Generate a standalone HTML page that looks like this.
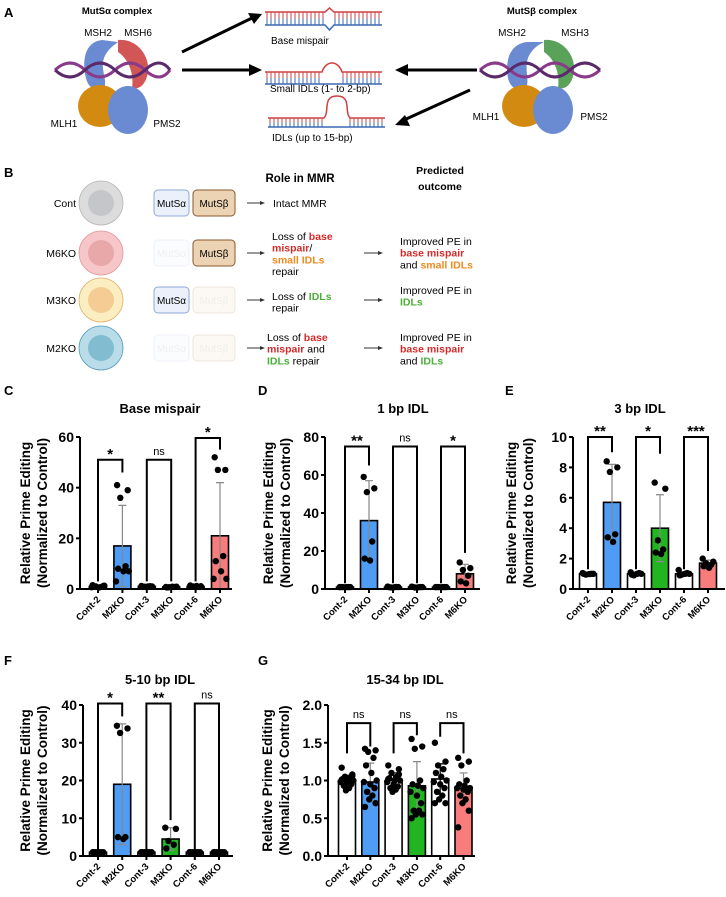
<!DOCTYPE html>
<html><head><meta charset="utf-8"><style>
html,body{margin:0;padding:0;background:#fff;}
svg{display:block;font-family:"Liberation Sans",sans-serif;}
.b{font-weight:bold;}
</style></head><body>
<svg id="fig" width="726" height="897" viewBox="0 0 726 897" xmlns="http://www.w3.org/2000/svg">
<!-- Panel A -->
<g>
<text x="4" y="17" class="b" font-size="13">A</text>
<text x="117" y="14" class="b" font-size="9.5" text-anchor="middle">MutSα complex</text>
<text x="98" y="36" font-size="10" text-anchor="middle">MSH2</text>
<text x="138" y="36" font-size="10" text-anchor="middle">MSH6</text>
<g>
<path d="M102,40 C84,42 82,62 86,78 C88,88 96,92 104,88 C108,80 100,70 104,58 C108,48 116,44 118,42 Z" fill="#6a8bd2"/>
<path d="M118,40 C136,38 150,55 148,72 C146,84 140,90 132,88 C134,76 130,60 118,52 Z" fill="#d25656"/>
<path d="M55,70 Q70,56 85,70 T115,70 T145,70 T170,70" stroke="#8a3a8a" stroke-width="3" fill="none"/>
<path d="M55,70 Q70,84 85,70 T115,70 T145,70 T170,70" stroke="#5a2a6a" stroke-width="3" fill="none"/>
<ellipse cx="100" cy="106" rx="22" ry="21" fill="#d38a10"/>
<ellipse cx="128" cy="110" rx="20" ry="24" fill="#6a8bd2"/>
</g>
<text x="64" y="127" font-size="10" text-anchor="middle">MLH1</text>
<text x="167" y="127" font-size="10" text-anchor="middle">PMS2</text>

<text x="542" y="14" class="b" font-size="9.5" text-anchor="middle">MutSβ complex</text>
<text x="512" y="36" font-size="10" text-anchor="middle">MSH2</text>
<text x="575" y="36" font-size="10" text-anchor="middle">MSH3</text>
<g>
<path d="M527,42 C509,44 505,62 508,78 C510,88 518,92 526,88 C530,80 524,70 528,58 C532,48 540,44 544,42 Z" fill="#6a8bd2"/>
<path d="M544,40 C562,38 576,55 574,72 C572,84 566,90 558,88 C560,76 556,60 544,52 Z" fill="#5aa25a"/>
<path d="M480,70 Q495,56 510,70 T540,70 T570,70 T600,70" stroke="#8a3a8a" stroke-width="3" fill="none"/>
<path d="M480,70 Q495,84 510,70 T540,70 T570,70 T600,70" stroke="#5a2a6a" stroke-width="3" fill="none"/>
<ellipse cx="524" cy="106" rx="22" ry="21" fill="#d38a10"/>
<ellipse cx="553" cy="110" rx="20" ry="24" fill="#6a8bd2"/>
</g>
<text x="486" y="120" font-size="10" text-anchor="middle">MLH1</text>
<text x="594" y="120" font-size="10" text-anchor="middle">PMS2</text>

<g stroke="#000" stroke-width="3">
<line x1="182" y1="52" x2="252" y2="18"/><line x1="182" y1="70" x2="252" y2="70"/>
<line x1="477" y1="70" x2="404" y2="70"/><line x1="470" y1="90" x2="404" y2="120"/>
</g>
<g fill="#000">
<polygon points="262,14 248,13 254,24"/><polygon points="262,70 249,64 249,76"/>
<polygon points="395,70 408,64 408,76"/><polygon points="395,125 405,115 410,126"/>
</g>
<g id="dna"></g>
<text x="271" y="44" font-size="10">Base mispair</text>
<text x="270" y="92" font-size="10">Small IDLs (1- to 2-bp)</text>
<text x="272" y="141" font-size="10">IDLs (up to 15-bp)</text>
</g>

<!-- Panel B -->
<g font-size="10.5">
<text x="4" y="177" class="b" font-size="13">B</text>
<text x="300" y="182" class="b" font-size="11.5" text-anchor="middle">Role in MMR</text>
<text x="440" y="174" class="b" font-size="10.5" text-anchor="middle">Predicted</text>
<text x="440" y="190" class="b" font-size="10.5" text-anchor="middle">outcome</text>
<g id="rows"></g>
<text x="273" y="207">Intact MMR</text>
<text x="272" y="240"><tspan x="272">Loss of <tspan fill="#d42a2a" class="b">base</tspan></tspan><tspan x="272" dy="11.7"><tspan fill="#d42a2a" class="b">mispair</tspan>/</tspan><tspan x="272" dy="11.7" fill="#ee8a20" class="b">small IDLs</tspan><tspan x="272" dy="11.7">repair</tspan></text>
<text x="272" y="300"><tspan x="272">Loss of <tspan fill="#4caf3a" class="b">IDLs</tspan></tspan><tspan x="272" dy="11.7">repair</tspan></text>
<text x="267" y="341"><tspan x="267">Loss of <tspan fill="#d42a2a" class="b">base</tspan></tspan><tspan x="267" dy="11.7"><tspan fill="#d42a2a" class="b">mispair</tspan> and</tspan><tspan x="267" dy="11.7"><tspan fill="#4caf3a" class="b">IDLs</tspan> repair</tspan></text>
<text x="400" y="245"><tspan x="400">Improved PE in</tspan><tspan x="400" dy="11.7" fill="#d42a2a" class="b">base mispair</tspan><tspan x="400" dy="11.7">and <tspan fill="#ee8a20" class="b">small IDLs</tspan></tspan></text>
<text x="400" y="294"><tspan x="400">Improved PE in</tspan><tspan x="400" dy="11.7" fill="#4caf3a" class="b">IDLs</tspan></text>
<text x="400" y="341"><tspan x="400">Improved PE in</tspan><tspan x="400" dy="11.7" fill="#d42a2a" class="b">base mispair</tspan><tspan x="400" dy="11.7">and <tspan fill="#4caf3a" class="b">IDLs</tspan></tspan></text>
</g>
<g id="charts"></g>
</svg>
<script>
const NS="http://www.w3.org/2000/svg";
function mk(parent,tag,attrs,txt){const e=document.createElementNS(NS,tag);for(const k in attrs)e.setAttribute(k,attrs[k]);if(txt!==undefined)e.textContent=txt;parent.appendChild(e);return e;}

// ---------- chart data ----------
const categories=["Cont-2","M2KO","Cont-3","M3KO","Cont-6","M6KO"];
const barColors=["#ffffff","#4f9cf5","#ffffff","#22b522","#ffffff","#f87c7c"];
const errColors=["#000","#888","#000","#888","#000","#888"];

const cMeans=[1,17,1,0.8,1,21];
const cSd=[0.4,16,0.3,0.2,0.3,21];
const cPoints=[[1.5,1.2,1,0.8,1,0.6,1.3,0.7],[41,39,36,9,8,7,7,3],[1.2,1,0.9,1.1,0.8,1],[0.8,0.9,0.7,0.8,0.6,0.9],[1.4,1.1,1,0.8,0.9,1.2],[52,47,47,13,11,7,4,4]];
const cTicks=[0,20,40,60];
const cSig=["*","ns","*"];
const cBr=[[51,3,46],[51,3,3],[59.6,3,55]];

const dMeans=[1,36,1,1,1,8];
const dSd=[0.1,21,0.2,0.2,0.1,5];
const dPoints=[[1,1,1,1,1,1],[59,53,51,25,16,15],[1.3,1,0.8,1.1,1,0.9],[1.2,1,0.8,1,1.1,0.9],[1,1,1,1,1,1],[14,11,10,7,4,3]];
const dTicks=[0,20,40,60,80];
const dSig=["**","ns","*"];
const dBr=[[75,3,65],[75,3,3],[75,3,19]];

const eMeans=[1,5.7,1,4,1,1.7];
const eSd=[0.08,2.5,0.1,2.2,0.12,0.2];
const ePoints=[[1.05,1,0.95,1,1,0.98],[8.4,8.0,7.7,3.6,3.4,3.1],[1.1,1,0.9,1.05,0.95,1],[7.0,6.6,3.2,2.6,2.4,2.3],[1.25,1,0.95,1.05,0.9,1],[2.0,1.8,1.7,1.6,1.5,1.4]];
const eTicks=[0,2,4,6,8,10];
const eSig=["**","*","***"];
const eBr=[[10,1.3,9],[10,1.3,8.9],[10,1.3,2.5]];

const fMeans=[1,19,1,4.5,1,1];
const fSd=[0.1,16,0.1,3,0.1,0.1];
const fPoints=[[1,1,1,1,1,1],[34.5,33.8,32.6,5,5,4.5],[1,1,1,1,1,1],[7.5,7.2,4,3,2],[1,1,1,1,1,1],[1,1,1,1,1,1]];
const fTicks=[0,10,20,30,40];
const fSig=["*","**","ns"];
const fBr=[[40.4,1.5,37],[40.4,1.5,9.5],[40.4,1.5,1.5]];

const gMeans=[1.0,0.98,1.0,0.93,1.02,0.9];
const gSd=[0.07,0.25,0.1,0.32,0.2,0.2];
const gPoints=[[1.17,1.08,1.05,1.03,1.02,1.0,1.0,0.98,0.97,0.95,0.93,0.9,0.87,1.06,1.01],[1.42,1.4,1.38,1.3,1.2,1.1,1.0,0.98,0.95,0.9,0.85,0.8,0.75,0.7,0.65],[1.2,1.15,1.1,1.05,1.03,1.0,1.0,0.98,0.95,0.92,0.9,0.88,0.85,1.08,1.02],[1.55,1.45,1.42,1.0,0.95,0.93,0.9,0.85,0.8,0.7,0.6,0.6,0.55,0.55,0.5],[1.5,1.25,1.2,1.15,1.1,1.05,1.0,0.98,0.95,0.9,0.85,0.8,0.75,0.7,0.7],[1.3,1.25,1.2,1.0,0.95,0.93,0.9,0.9,0.88,0.85,0.8,0.75,0.7,0.6,0.38]];
const gTicks=["0.0","0.5","1.0","1.5","2.0"];
const gSig=["ns","ns","ns"];
const gBr=[[1.76,1.36,1.45],[1.76,1.36,1.6],[1.76,1.58,1.36]];

const jit=[-5,5,-2,3,-4,1,6,-6,0,4,-3,2,-1,5,-5];

function chart(o){
  const g=mk(document.getElementById('charts'),'g',{});
  
  
  const ymax=parseFloat(o.ticks[o.ticks.length-1]);
  const ys=v=>o.y0-(v/ymax)*(o.y0-o.ytop);
  const xs=i=>o.x0+o.first+i*o.step;
  const lt=mk(g,'text',{x:o.lx,y:o.ly,'font-size':13,'font-weight':'bold'},o.letter);
  
  const t=mk(g,'text',{x:o.tx,y:o.ty,'font-size':13,'font-weight':'bold','text-anchor':'middle'},o.title);
  
  const yt=mk(g,'text',{transform:`translate(${o.ytx},${(o.y0+o.ytop)/2}) rotate(-90)`,'font-size':13.5,'font-weight':'bold','text-anchor':'middle'});
  
  mk(yt,'tspan',{x:0,y:0},'Relative Prime Editing');
  mk(yt,'tspan',{x:0,y:17},'(Normalized to Control)');
  o.means.forEach((m,i)=>{
    const r=mk(g,'rect',{x:xs(i)-o.bw/2,y:ys(m),width:o.bw,height:o.y0-ys(m),fill:barColors[i],stroke:'#000','stroke-width':1.6});
    
    
  });
  o.means.forEach((m,i)=>{
    const c=errColors[i],x=xs(i),a=ys(m+o.sd[i]),b=ys(Math.max(0,m-o.sd[i]));
    const e=mk(g,'path',{d:`M${x},${a}V${b}M${x-4},${a}H${x+4}M${x-4},${b}H${x+4}`,stroke:c,'stroke-width':1.2,fill:'none'});
    
    
  });
  o.pts.forEach((arr,i)=>arr.forEach((v,k)=>{
    const p=mk(g,'circle',{cx:xs(i)+jit[k%jit.length]*o.bw/16,cy:ys(v),r:3.2,fill:'#000'});
    
    
  }));
  const ax=mk(g,'path',{d:`M${o.x0},${o.ytop}V${o.y0}H${o.x0+o.xlen}`,stroke:'#000','stroke-width':2,fill:'none'});
  
  o.ticks.forEach(tv=>{
    const y=ys(parseFloat(tv));
    mk(g,'line',{x1:o.x0-4,x2:o.x0,y1:y,y2:y,stroke:'#000','stroke-width':2});
    const tl=mk(g,'text',{x:o.x0-6,y:y+5,'font-size':14,'font-weight':'bold','text-anchor':'end'},tv);
    
  });
  categories.forEach((c,i)=>{
    const x=xs(i);
    mk(g,'line',{x1:x,x2:x,y1:o.y0,y2:o.y0+4,stroke:'#000','stroke-width':2});
    const xl=mk(g,'text',{transform:`translate(${x+3},${o.y0+11}) rotate(-45)`,'font-size':9.5,'font-weight':'bold','text-anchor':'end'},c);
    
  });
  o.br.forEach((b,j)=>{
    const xa=xs(2*j),xb=xs(2*j+1),yt2=ys(b[0]);
    const p=mk(g,'path',{d:`M${xa},${ys(b[1])}V${yt2}H${xb}V${ys(b[2])}`,stroke:'#000','stroke-width':2,fill:'none'});
    
    
    const s=o.sig[j];
    const st=mk(g,'text',{x:(xa+xb)/2,y:yt2-(s==='ns'?5:1),'font-size':s==='ns'?11:15,'font-weight':s==='ns'?'normal':'bold','text-anchor':'middle'},s);
    
    
  });
}
chart({name:'chart-base-mispair',letter:'C',lx:4,ly:395,title:'Base mispair',tx:160,ty:413,ytx:30,x0:80,first:18,step:24.4,bw:17,xlen:152,y0:589,ytop:437,ticks:cTicks,means:cMeans,sd:cSd,pts:cPoints,sig:cSig,br:cBr});
chart({name:'chart-1bp-idl',letter:'D',lx:258,ly:395,title:'1 bp IDL',tx:403,ty:413,ytx:273,x0:325,first:20,step:24,bw:17,xlen:155,y0:589,ytop:437,ticks:dTicks,means:dMeans,sd:dSd,pts:dPoints,sig:dSig,br:dBr});
chart({name:'chart-3bp-idl',letter:'E',lx:505,ly:395,title:'3 bp IDL',tx:640,ty:413,ytx:516,x0:573,first:15,step:24,bw:17,xlen:152,y0:589,ytop:437,ticks:eTicks,means:eMeans,sd:eSd,pts:ePoints,sig:eSig,br:eBr});
chart({name:'chart-5-10bp-idl',letter:'F',lx:4,ly:665,title:'5-10 bp IDL',tx:160,ty:684,ytx:30,x0:83,first:15,step:24.2,bw:17,xlen:150,y0:856,ytop:705,ticks:fTicks,means:fMeans,sd:fSd,pts:fPoints,sig:fSig,br:fBr});
chart({name:'chart-15-34bp-idl',letter:'G',lx:258,ly:665,title:'15-34 bp IDL',tx:405,ty:684,ytx:272,x0:328,first:19,step:23.3,bw:17,xlen:147,y0:856,ytop:705,ticks:gTicks,means:gMeans,sd:gSd,pts:gPoints,sig:gSig,br:gBr});

(function(){
  const d=document.getElementById('dna');
  function ladder(x1,x2,top,bot,gap0,gap1,bump){
    for(let x=x1+2;x<x2;x+=4){ if(x>gap0&&x<gap1)continue;
      mk(d,'line',{x1:x,x2:x,y1:top,y2:(top+bot)/2,stroke:'#d04040','stroke-width':1});
      mk(d,'line',{x1:x,x2:x,y1:(top+bot)/2,y2:bot,stroke:'#3a6ab0','stroke-width':1});}
    mk(d,'path',{d:`M${x1},${top}H${gap0}${bump}H${x2}`,stroke:'#d04040','stroke-width':1.5,fill:'none'});
  }
  ladder(265,382,12,25,325,334,'L329.5,8L334,12');
  mk(d,'path',{d:'M265,25H325L329.5,30L334,25H382',stroke:'#3a6ab0','stroke-width':1.5,fill:'none'});
  ladder(265,382,72,84,322,342,'C326,60 338,60 342,72');
  mk(d,'line',{x1:265,x2:382,y1:84,y2:84,stroke:'#3a6ab0','stroke-width':1.5});
  ladder(268,385,118,127,324,350,'C330,112 322,96 337,96 C352,96 344,112 350,118');
  mk(d,'line',{x1:268,x2:385,y1:127,y2:127,stroke:'#3a6ab0','stroke-width':1.5});
})();

(function(){
  const R=document.getElementById('rows');
  const rows=[["Cont",203,"#dcdcdc","#c4c6ca","#b8b8b8",1,1],["M6KO",253,"#f6c6c8","#e8a8aa","#e39a9c",0.15,1],["M3KO",300,"#fbeec0","#f4cc94","#e0b070",1,0.15],["M2KO",348,"#b8dce8","#82bcd0","#5a9cb8",0.15,0.15]];
  rows.forEach(r=>{
    const g=mk(R,'g',{});
    
    
    mk(g,'text',{x:76,y:r[1]+4,'font-size':10.5,'text-anchor':'end'},r[0]);
    mk(g,'circle',{cx:101,cy:r[1],r:22,fill:r[2],stroke:r[4],'stroke-width':0.8});
    mk(g,'circle',{cx:101,cy:r[1],r:13,fill:r[3]});
    const ga=mk(g,'g',{opacity:r[5]});
    mk(ga,'rect',{x:154,y:r[1]-13,width:35,height:26,rx:4,fill:'#eaf1fb',stroke:'#8fa8d8','stroke-width':1});
    mk(ga,'text',{x:171.5,y:r[1]+4,'font-size':10,'text-anchor':'middle',fill:r[5]<1?'#99a':'#000'},'MutSα');
    const gb=mk(g,'g',{opacity:r[6]});
    mk(gb,'rect',{x:193,y:r[1]-13,width:42,height:26,rx:4,fill:'#ecd3b4',stroke:'#8a5a2a','stroke-width':1});
    mk(gb,'text',{x:214,y:r[1]+4,'font-size':10,'text-anchor':'middle',fill:r[6]<1?'#998':'#000'},'MutSβ');
    mk(g,'path',{d:`M247,${r[1]}H262`,stroke:'#333','stroke-width':1});
    mk(g,'polygon',{points:`265,${r[1]} 260,${r[1]-2} 260,${r[1]+2}`,fill:'#333'});
    if(r[0]!=='Cont'){
      mk(g,'path',{d:`M364,${r[1]}H380`,stroke:'#333','stroke-width':1});
      mk(g,'polygon',{points:`383,${r[1]} 378,${r[1]-2} 378,${r[1]+2}`,fill:'#333'});
    }
  });
})();
</script>
</body></html>
